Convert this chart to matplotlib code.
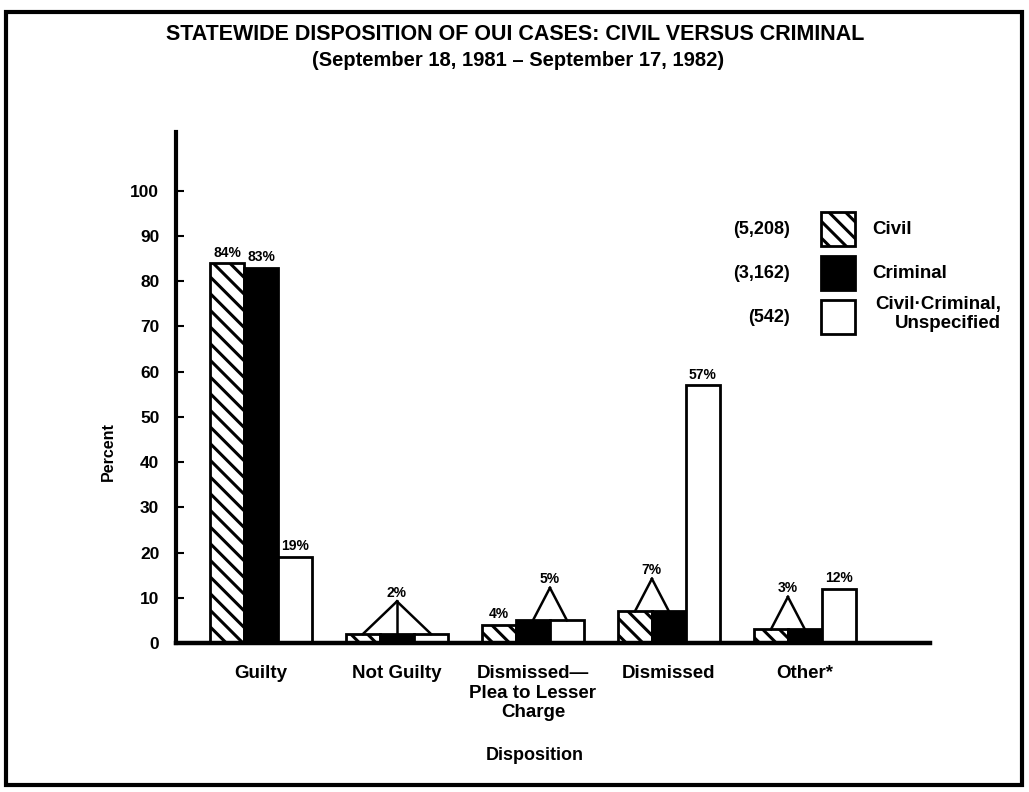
import matplotlib.pyplot as plt
from matplotlib.patches import Rectangle

plt.rcParams['font.family'] = ['Liberation Sans', 'DejaVu Sans']
plt.rcParams['hatch.linewidth'] = 2.2

# data (percent of cases)
categories = ['Guilty', 'Not Guilty', 'Dismissed\u2014\nPlea to Lesser\nCharge', 'Dismissed', 'Other*']
series = ['Civil', 'Criminal', 'Civil\u00b7Criminal,\nUnspecified']
case_counts = ['(5,208)', '(3,162)', '(542)']
civil = [84, 2, 4, 7, 3]
criminal = [83, 2, 5, 7, 3]
unspecified = [19, 2, 5, 57, 12]

W, H = 1029, 792


def fx(px):
    return px / W


def fy(py):
    return 1 - py / H


styles = [dict(facecolor='white', hatch='\\\\'),
          dict(facecolor='black'),
          dict(facecolor='white')]

fig = plt.figure(figsize=(W / 100, H / 100), dpi=100)
ax = fig.add_axes([fx(176), fy(643), fx(930) - fx(176), fy(132) - fy(643)])

width = 0.25
offsets = [-width, 0, width]
all_vals = [civil, criminal, unspecified]
for vals, off, st in zip(all_vals, offsets, styles):
    ax.bar([i + off for i in range(len(categories))], vals, width,
           edgecolor='black', linewidth=2, zorder=2, **st)

# percent labels: adjacent equal values share one label with connector lines
for i in range(len(categories)):
    vals = [v[i] for v in all_vals]
    groups = []
    for j, v in enumerate(vals):
        if groups and vals[groups[-1][-1]] == v:
            groups[-1].append(j)
        else:
            groups.append([j])
    for g in groups:
        v = vals[g[0]]
        xs = [i + offsets[j] for j in g]
        if len(g) == 1:
            ax.text(xs[0], v + 0.8, f'{v}%', ha='center', va='bottom',
                    fontsize=10, fontweight='bold')
        else:
            xm = sum(xs) / len(xs)
            ax.text(xm, v + 7.6, f'{v}%', ha='center', va='bottom',
                    fontsize=10, fontweight='bold')
            for x in xs:
                ax.plot([xm, x], [v + 7.2, v], color='black', lw=1.8, zorder=3)

ax.set_xlim(-0.625, 4.92)
ax.set_ylim(0, 113)
ax.set_yticks(range(0, 101, 10))
ax.set_xticks(range(len(categories)))
ax.set_xticklabels(categories, fontsize=13.5, fontweight='bold', linespacing=1.2)
ax.tick_params(axis='x', length=0, pad=16)
ax.tick_params(axis='y', direction='in', length=6, width=1.5, pad=12, labelsize=12.5)
for lab in ax.get_yticklabels():
    lab.set_fontweight('bold')
for s in ['top', 'right']:
    ax.spines[s].set_visible(False)
ax.spines['left'].set_linewidth(3)
ax.spines['bottom'].set_linewidth(3.2)

fig.text(fx(108), fy(452), 'Percent', rotation=90, ha='center', va='center',
         fontsize=11.5, fontweight='bold')
fig.text(fx(535), fy(755), 'Disposition', ha='center', va='center',
         fontsize=13, fontweight='bold')

fig.text(fx(515), fy(35), 'STATEWIDE DISPOSITION OF OUI CASES: CIVIL VERSUS CRIMINAL',
         ha='center', va='center', fontsize=15.5, fontweight='bold')
fig.text(fx(518), fy(60), '(September 18, 1981 \u2013 September 17, 1982)',
         ha='center', va='center', fontsize=14.5, fontweight='bold')

# legend
legend_tops = [212, 256, 300]
for top, cnt, name, st in zip(legend_tops, case_counts, series, styles):
    fig.patches.append(Rectangle((fx(821), fy(top + 34)), fx(34), 34 / H,
                                 transform=fig.transFigure, edgecolor='black',
                                 linewidth=2, **st))
    fig.text(fx(790), fy(top + 18), cnt, ha='right', va='center',
             fontsize=13, fontweight='bold')
    if '\n' in name:
        fig.text(fx(1001), fy(top + 14), name, ha='right', va='center',
                 fontsize=13.5, fontweight='bold', linespacing=1.1)
    else:
        fig.text(fx(872), fy(top + 18), name, ha='left', va='center',
                 fontsize=13.5, fontweight='bold')

# outer frame
fig.patches.append(Rectangle((fx(6), fy(785)), fx(1016), fy(12) - fy(785),
                             transform=fig.transFigure, fill=False,
                             edgecolor='black', linewidth=3))

fig.savefig('out.png', dpi=100)
